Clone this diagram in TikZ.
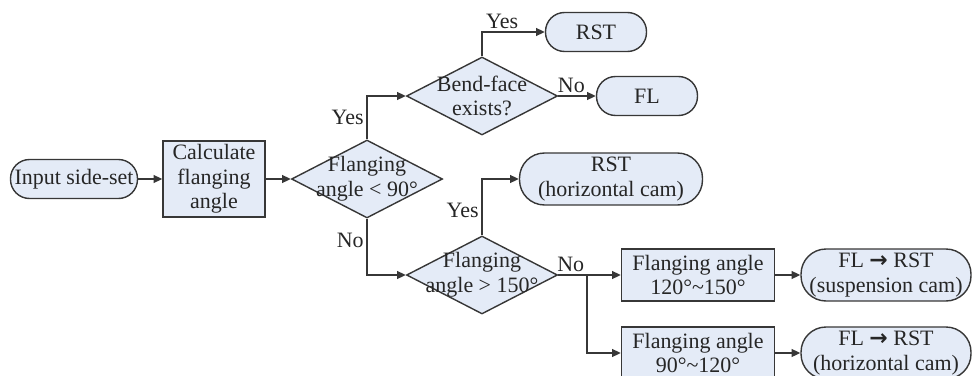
\documentclass[tikz,border=0pt]{standalone}
\usepackage{fontspec}
\setmainfont{Liberation Serif}
\newfontfamily\arwfont{DejaVu Sans}
\usetikzlibrary{positioning,arrows.meta,shapes.geometric}
\definecolor{boxfill}{RGB}{228,235,247}
\definecolor{edge}{RGB}{55,55,55}
\newcommand{\arw}{{\arwfont\bfseries →}}

\begin{document}
\begin{tikzpicture}[x=0.02cm,y=-0.02cm,
  font=\fontsize{12.5}{14}\selectfont, text=black!85,
  box/.style={draw=edge, fill=boxfill, line width=0.8pt, inner sep=0pt, align=center},
  term/.style={box, rounded corners=0.38cm, minimum height=0.78cm},
  bigterm/.style={box, rounded corners=0.5cm, minimum height=1.04cm},
  dia/.style={box, diamond, minimum width=3.02cm, minimum height=1.56cm},
  diatext/.style={align=center, inner sep=0pt},
  lbl/.style={inner sep=1.5pt},
  arr/.style={draw=edge, line width=0.8pt, -{Triangle[length=5pt,width=4.5pt]}}]
  \useasboundingbox (0,0) rectangle (972,375);

  % main row
  \node[term, minimum width=2.54cm] (in) at (74,179) {Input side-set};
  \node[box, minimum width=2.04cm, minimum height=1.52cm] (calc) at (214,179) {Calculate\\flanging\\angle};
  \node[dia] (d1) at (367,179) {};
  \node[diatext] (d1t) at (d1) {Flanging\\angle < 90°};

  % upper branch
  \node[dia] (d2) at (482,96) {};
  \node[diatext] (d2t) at (d2) {Bend-face\\exists?};
  \node[term, minimum width=2.02cm] (rst1) at (596,32) {RST};
  \node[term, minimum width=2.02cm] (fl) at (647,96) {FL};

  % lower branch
  \node[dia] (d3) at (482,275) {};
  \node[diatext] (d3t) at (d3) {Flanging\\angle > 150°};
  \node[bigterm, minimum width=3.66cm] (rst2) at (611,179) {RST\\(horizontal cam)};
  \node[box, minimum width=3.06cm, minimum height=1.04cm] (r1) at (698,275) {Flanging angle\\120°\textasciitilde150°};
  \node[box, minimum width=3.06cm, minimum height=1.04cm] (r2) at (698,353) {Flanging angle\\90°\textasciitilde120°};
  \node[bigterm, minimum width=3.4cm] (c1) at (886,275) {FL \arw{} RST\\(suspension cam)};
  \node[bigterm, minimum width=3.4cm] (c2) at (886,353) {FL \arw{} RST\\(horizontal cam)};
  \coordinate (br) at (587,275);

  \draw[arr] (in.east) -- (calc.west);
  \draw[arr] (calc.east) -- (d1.west);
  \draw[arr] (d1.north) |- node[lbl, pos=0.25, left] (y1) {Yes} (d2.west);
  \draw[arr] (d2.north) |- node[lbl, pos=0.66, above] (y2) {Yes} (rst1.west);
  \draw[arr] (d2.east) -- node[lbl, pos=0.35, above] (n1) {No} (fl.west);
  \draw[arr] (d1.south) |- node[lbl, pos=0.19, left] (n2) {No} (d3.west);
  \draw[arr] (d3.north) |- node[lbl, pos=0.22, left] (y3) {Yes} (rst2.west);
  \draw[arr] (d3.east) -- node[lbl, pos=0.2, above] (n3) {No} (r1.west);
  \draw[arr] (br) |- (r2.west);
  \draw[arr] (r1.east) -- (c1.west);
  \draw[arr] (r2.east) -- (c2.west);
\end{tikzpicture}
\end{document}
